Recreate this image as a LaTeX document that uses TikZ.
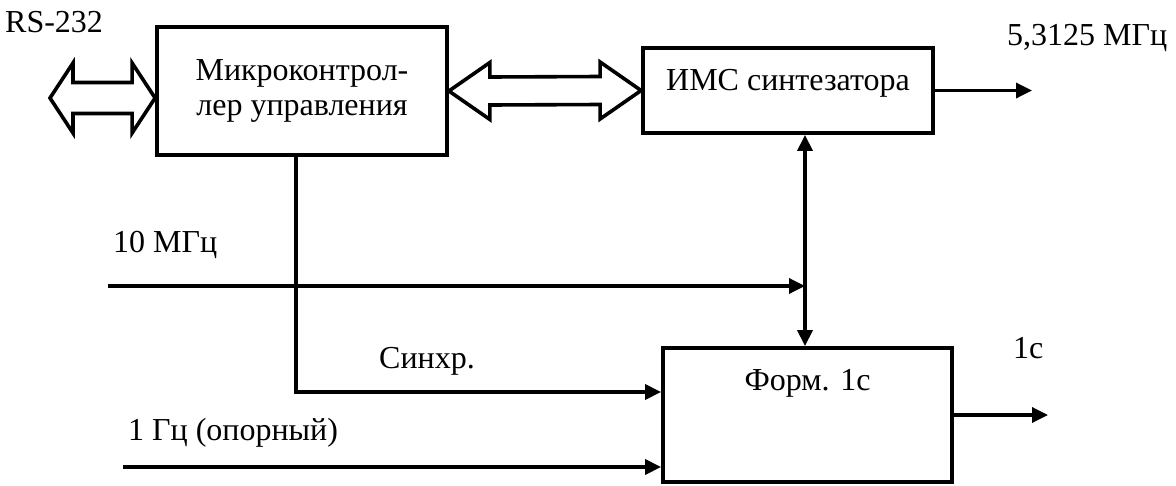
\documentclass[tikz,border=0pt]{standalone}
\usepackage{fontspec}
\setmainfont{Liberation Serif}
\usetikzlibrary{arrows.meta,positioning,calc}

% hollow two-headed bus arrow: from, to, half shaft, half head, head length
\newcommand{\busarrow}[5]{%
  \draw[bus] (#1) -- ($(#1)+(#5,-#4)$) -- ($(#1)+(#5,-#3)$) -- ($(#2)+(-#5,-#3)$)
    -- ($(#2)+(-#5,-#4)$) -- (#2) -- ($(#2)+(-#5,#4)$) -- ($(#2)+(-#5,#3)$)
    -- ($(#1)+(#5,#3)$) -- ($(#1)+(#5,#4)$) -- cycle;}

\begin{document}
\begin{tikzpicture}
    [x=1pt,y=-1pt,
     every node/.style={font=\fontsize{32}{35}\selectfont,inner sep=0pt},
     blk/.style={rectangle,draw=black,line width=3.8pt,align=center},
     bus/.style={draw=black,line width=3.6pt,line join=miter,fill=white},
     tip/.style={arrows={-Triangle[length=16pt,width=15pt]}},
     sig/.style={draw=black,line width=3.4pt,tip}]
    \useasboundingbox (0,0) rectangle (1176,485);

    \node[blk,minimum width=290pt,minimum height=128pt] (mc) at (302,91) {Микроконтрол-\\лер управления};
    \node[blk,minimum width=290pt,minimum height=85pt,text height=20pt,text depth=20pt] (ims) at (788,90.5) {ИМС синтезатора};
    \node[blk,minimum width=289pt,minimum height=134pt,text height=20pt,text depth=70pt] (fm) at (807.5,415) {Форм. 1с};

    % free ends
    \coordinate (rs) at (50,98);
    \coordinate (rsb) at (mc.west |- rs);
    \coordinate (in10) at (108,286);
    \coordinate (in1) at (123,467);
    \coordinate (vt) at (805,0 |- ims.south);
    \coordinate (sy) at (296,0 |- mc.south);
    \coordinate (out1) at (1032,0 |- ims.east);
    \coordinate (out2) at (1048,0 |- fm.east);

    \busarrow{rs}{rsb}{15.5}{35}{23}
    \busarrow{mc.east}{ims.west}{14}{28.5}{41}

    \draw[sig] (ims.east) -- (out1);
    \draw[sig] (fm.east) -- (out2);
    \draw[sig,arrows={Triangle[length=16pt,width=15pt]-Triangle[length=16pt,width=15pt]}] (vt) -- (vt |- fm.north);
    \draw[sig] (in10) -- (in10 -| vt);
    \draw[sig] (sy) |- (fm.west |- 0,392);
    \draw[sig] (in1) -- (in1 -| fm.west);

    \node[anchor=base west] (lrs) at (5,32) {RS-232};
    \node[anchor=base west] (l10) at (113,252) {10 МГц};
    \node[anchor=base west] (lsy) at (379,368) {Синхр.};
    \node[anchor=base west] (l1) at (128,440) {1 Гц (опорный)};
    \node[anchor=base west] (lf) at (1007,45) {5,3125 МГц};
    \node[anchor=base west] (ls) at (1013,358) {1с};
\end{tikzpicture}
\end{document}
